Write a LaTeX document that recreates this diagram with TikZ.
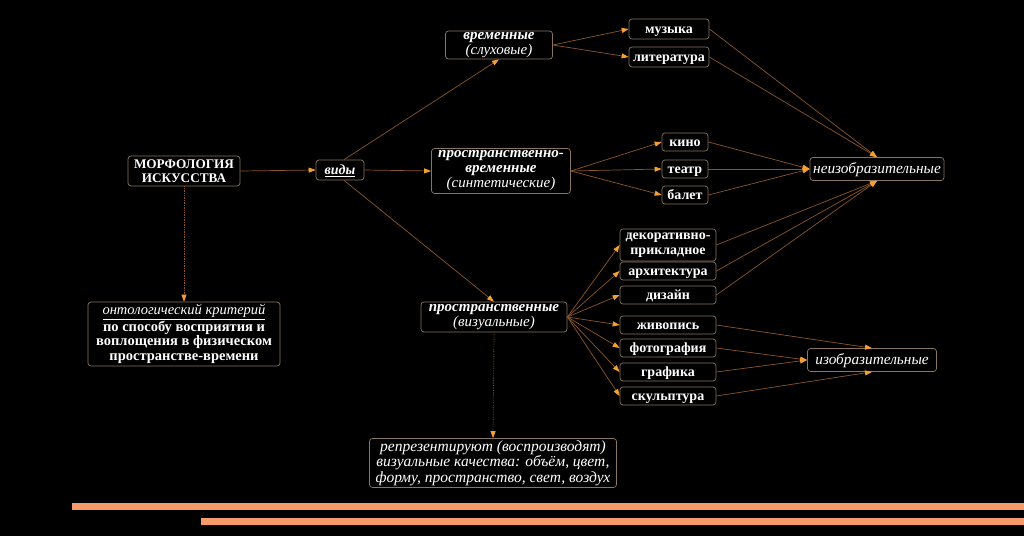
\documentclass[tikz,border=0pt]{standalone}
\usepackage{fontspec}
\setmainfont{Liberation Serif}
\usetikzlibrary{arrows.meta}
\definecolor{boxc}{HTML}{8A7560}
\definecolor{edgec}{HTML}{8C5628}
\definecolor{tipc}{HTML}{F5A030}
\definecolor{barc}{HTML}{F79A6A}
\tikzset{
  box/.style={draw=boxc, fill=black, rounded corners=3pt, text=white, line width=0.7pt, inner sep=0pt, align=center},
  one/.style={text height=0.84em, text depth=0pt},
  conn/.style={draw=edgec, line width=0.7pt, -{Triangle[length=7pt,width=5pt,color=tipc]}},
  dconn/.style={conn, densely dotted},
  sm/.style={box, one, font=\bfseries\fontsize{14}{15}\selectfont, minimum width=96pt, minimum height=18pt},
}
\begin{document}
\begin{tikzpicture}[x=1pt,y=-1pt]
\fill[black] (0,0) rectangle (1024,536);
\useasboundingbox (0,0) rectangle (1024,536);
% bars
\fill[barc] (72,503) rectangle (1024,510);
\fill[barc] (201,518) rectangle (1024,525);

\node[box, font=\bfseries\fontsize{13.2}{14}\selectfont, minimum width=112pt, minimum height=30pt] (morf) at (184,171) {МОРФОЛОГИЯ\\ИСКУССТВА};
\node[box, one, font=\bfseries\itshape\fontsize{14}{15}\selectfont, minimum width=48pt, minimum height=20pt] (vid) at (340,170) {\underline{виды}};

\node[box, minimum width=107pt, minimum height=28pt, font=\itshape\fontsize{15}{14.5}\selectfont] (vrem) at (499,45) {\textbf{временные}\\(слуховые)};
\node[sm, minimum width=80pt, minimum height=20pt] (muz) at (669,29) {музыка};
\node[sm, minimum width=80pt, minimum height=20pt] (lit) at (669,57) {литература};

\node[box, minimum width=139pt, minimum height=45pt, font=\itshape\fontsize{15}{15}\selectfont] (prvr) at (501,171) {\textbf{пространственно-}\\\textbf{временные}\\(синтетические)};
\node[sm, minimum width=46pt] (kino) at (685,142) {кино};
\node[sm, minimum width=46pt] (teatr) at (685,169) {театр};
\node[sm, minimum width=46pt] (balet) at (685,195) {балет};

\node[box, one, font=\itshape\fontsize{15.3}{16}\selectfont, minimum width=134pt, minimum height=23pt] (neizo) at (877,169) {неизобразительные};

\node[box, minimum width=146pt, minimum height=30pt, font=\itshape\fontsize{15}{14.5}\selectfont] (prost) at (494,317) {\textbf{пространственные}\\(визуальные)};

\node[sm, minimum height=32pt, text height=, text depth=, font=\bfseries\fontsize{14}{15}\selectfont] (dek) at (668,245) {декоративно-\\прикладное};
\node[sm] (arh) at (668,271) {архитектура};
\node[sm] (diz) at (668,295) {дизайн};
\node[sm] (ziv) at (668,325) {живопись};
\node[sm] (foto) at (668,348) {фотография};
\node[sm] (graf) at (668,372) {графика};
\node[sm] (skul) at (668,396) {скульптура};

\node[box, one, font=\itshape\fontsize{15.3}{16}\selectfont, minimum width=129pt, minimum height=23pt] (izo) at (872,360) {изобразительные};

\node[box, font=\bfseries\fontsize{14.5}{14.5}\selectfont, minimum width=192pt, minimum height=64pt] (onto) at (184,334) {\textmd{\itshape\underline{онтологический критерий}}\\по способу восприятия и\\воплощения в физическом\\пространстве-времени};

\node[box, font=\itshape\fontsize{15.5}{15.5}\selectfont, minimum width=247pt, minimum height=49pt] (repr) at (493,463) {репрезентируют (воспроизводят)\\визуальные качества: объём, цвет,\\форму, пространство, свет, воздух};

% connectors
\draw[conn] (morf.east) -- (vid.west);
\draw[dconn] (morf.south) -- (onto.north);
\draw[conn] ([xshift=4pt]vid.north) -- (vrem.south);
\draw[conn] (vid.east) -- (prvr.west);
\draw[conn] ([xshift=4pt]vid.south) -- (prost.north);
\draw[dconn] (prost.south) -- (repr.north);

\draw[conn] (vrem.east) -- (muz.west);
\draw[conn] (vrem.east) -- (lit.west);
\draw[conn] (prvr.east) -- (kino.west);
\draw[conn] (prvr.east) -- (teatr.west);
\draw[conn] (prvr.east) -- (balet.west);
\foreach \n in {dek,arh,diz,ziv,foto,graf,skul}
  \draw[conn] (prost.east) -- (\n.west);

\draw[conn] (muz.east) -- (neizo.north);
\draw[conn] (lit.east) -- (neizo.north);
\draw[conn] (kino.east) -- (neizo.west);
\draw[conn] (teatr.east) -- (neizo.west);
\draw[conn] (balet.east) -- (neizo.west);
\draw[conn] (dek.east) -- (neizo.south);
\draw[conn] (arh.east) -- (neizo.south);
\draw[conn] (diz.east) -- (neizo.south);
\draw[conn] (ziv.east) -- (izo.north);
\draw[conn] (foto.east) -- (izo.west);
\draw[conn] (graf.east) -- (izo.west);
\draw[conn] (skul.east) -- (izo.south);
\end{tikzpicture}
\end{document}
